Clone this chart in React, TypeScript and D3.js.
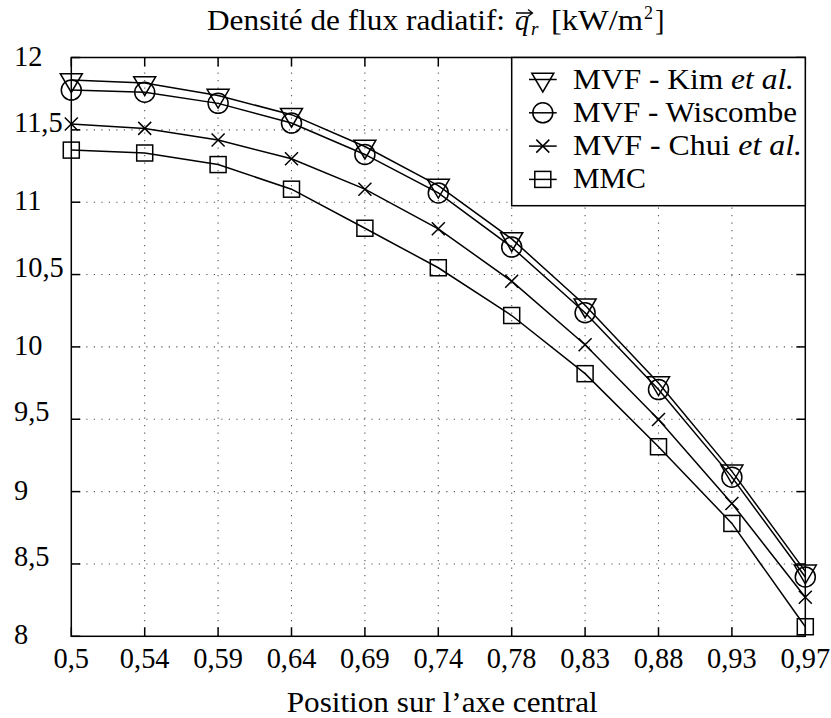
import React from "react";
import * as d3 from "d3";

// ---- Data ----
const categories = ["0,5", "0,54", "0,59", "0,64", "0,69", "0,74", "0,78", "0,83", "0,88", "0,93", "0,97"];
const kimValues = [11.845, 11.824, 11.737, 11.605, 11.385, 11.115, 10.746, 10.288, 9.75, 9.14, 8.449];
const wiscombeValues = [11.775, 11.76, 11.683, 11.547, 11.33, 11.064, 10.69, 10.236, 9.705, 9.1, 8.41];
const chuiValues = [11.54, 11.51, 11.43, 11.3, 11.09, 10.816, 10.454, 10.015, 9.498, 8.918, 8.27];
const mmcValues = [11.36, 11.34, 11.26, 11.09, 10.82, 10.547, 10.217, 9.815, 9.31, 8.78, 8.066];
const yTickValues = [8, 8.5, 9, 9.5, 10, 10.5, 11, 11.5, 12];
const yTickLabels = ["8", "8,5", "9", "9,5", "10", "10,5", "11", "11,5", "12"];

type MarkerType = "tri" | "circle" | "cross" | "square";
const series: { name: string; italic?: string; values: number[]; marker: MarkerType; width: number }[] = [
  { name: "MVF - Kim ", italic: "et al.", values: kimValues, marker: "tri", width: 221 },
  { name: "MVF - Wiscombe", values: wiscombeValues, marker: "circle", width: 224 },
  { name: "MVF - Chui ", italic: "et al.", values: chuiValues, marker: "cross", width: 229 },
  { name: "MMC", values: mmcValues, marker: "square", width: 73 },
];

const FONT = "Liberation Serif";
const FS = 28.4;
const SW = 1.5;
const tf = { fontFamily: FONT } as React.CSSProperties;

const L = 71.3, R = 805.3, T = 57.5, B = 636.3;

function Marker({ type, cx, cy }: { type: MarkerType; cx: number; cy: number }) {
  const common = { fill: "none", stroke: "#000", strokeWidth: SW };
  if (type === "tri") {
    const r = 12.5;
    const hw = 11;
    return <path d={`M${cx - hw},${cy - r / 2}L${cx + hw},${cy - r / 2}L${cx},${cy + r}Z`} {...common} strokeLinejoin="miter" />;
  }
  if (type === "circle") return <circle cx={cx} cy={cy} r={10} {...common} />;
  if (type === "cross") {
    const s = 6.5;
    return <path d={`M${cx - s},${cy - s}L${cx + s},${cy + s}M${cx - s},${cy + s}L${cx + s},${cy - s}`} {...common} />;
  }
  const h = 8;
  return <rect x={cx - h} y={cy - h} width={2 * h} height={2 * h} {...common} />;
}

export default function App() {
  const x = d3.scalePoint<string>().domain(categories).range([L, R]).padding(0);
  const y = d3.scaleLinear().domain([8, 12]).range([B, T]);
  const line = d3
    .line<number>()
    .x((_, i) => x(categories[i]) as number)
    .y((d) => y(d));

  const tick = 9;
  const gridStyle = { stroke: "#555", strokeWidth: 1.1, strokeDasharray: "1.2 6.3" };

  const legX = 511.7, legY = T, legW = R - 511.7, legH = 205.7 - T;
  const rowCenters = [79.5, 112.8, 146.1, 179.4];

  return (
    <svg width={831} height={718} style={{ position: "absolute", left: 0, top: 0, background: "#fff", fontFamily: FONT }}>
      <rect x={0} y={0} width={831} height={718} fill="#fff" />
      {/* Title */}
      <g fill="#000">
        <text x={207} y={30} style={{ ...tf, fontSize: FS }} textLength={298} lengthAdjust="spacingAndGlyphs">Densité de flux radiatif:</text>
        <text x={515} y={30} style={{ ...tf, fontSize: FS, fontStyle: "italic" }}>q</text>
        <path d="M516,13 L532,13 M528,9.5 L532.5,13 L528,16.5" fill="none" stroke="#000" strokeWidth={1.3} />
        <text x={531} y={35} style={{ ...tf, fontSize: 19, fontStyle: "italic" }}>r</text>
        <text x={551} y={30} style={{ ...tf, fontSize: FS }} textLength={92} lengthAdjust="spacingAndGlyphs">[kW/m</text>
        <text x={644} y={19} style={{ ...tf, fontSize: 18 }}>2</text>
        <text x={655} y={30} style={{ ...tf, fontSize: FS }}>]</text>
      </g>

      {/* Grid */}
      <g>
        {categories.slice(1, -1).map((c) => (
          <line key={c} x1={x(c)} x2={x(c)} y1={B} y2={T} {...gridStyle} />
        ))}
        {yTickValues.slice(1, -1).map((v) => (
          <line key={v} x1={L} x2={R} y1={y(v)} y2={y(v)} {...gridStyle} />
        ))}
      </g>

      {/* Ticks */}
      <g stroke="#000" strokeWidth={SW}>
        {categories.map((c) => (
          <g key={c}>
            <line x1={x(c)} x2={x(c)} y1={B} y2={B - tick} />
            <line x1={x(c)} x2={x(c)} y1={T} y2={T + tick} />
          </g>
        ))}
        {yTickValues.map((v) => (
          <g key={v}>
            <line x1={L} x2={L + tick} y1={y(v)} y2={y(v)} />
            <line x1={R} x2={R - tick} y1={y(v)} y2={y(v)} />
          </g>
        ))}
      </g>

      {/* Series */}
      {series.map((s) => (
        <g key={s.name}>
          <path d={line(s.values) || ""} fill="none" stroke="#000" strokeWidth={SW} />
          {s.values.map((v, i) => (
            <Marker key={i} type={s.marker} cx={x(categories[i]) as number} cy={y(v)} />
          ))}
        </g>
      ))}

      {/* Frame */}
      <rect x={L} y={T} width={R - L} height={B - T} fill="none" stroke="#000" strokeWidth={SW} />

      {/* Tick labels */}
      <g fill="#000">
        {categories.map((c) => (
          <text key={c} x={x(c)} y={668} textAnchor="middle" style={{ ...tf, fontSize: FS }}>{c}</text>
        ))}
        {yTickValues.map((v, i) => (
          <text key={v} x={14} y={y(v) + (yTickLabels[i].includes(",") ? 2 : 8)} style={{ ...tf, fontSize: FS }}>{yTickLabels[i]}</text>
        ))}
      </g>

      {/* X label */}
      <text x={286.7} y={712} style={{ ...tf, fontSize: FS }} textLength={311} lengthAdjust="spacingAndGlyphs">Position sur l’axe central</text>

      {/* Legend */}
      <g>
        <rect x={legX} y={legY} width={legW} height={legH} fill="#fff" stroke="#000" strokeWidth={SW} />
        {series.map((s, i) => (
          <g key={s.name}>
            <line x1={529} x2={556.7} y1={rowCenters[i]} y2={rowCenters[i]} stroke="#000" strokeWidth={SW} />
            <Marker type={s.marker} cx={542.8} cy={rowCenters[i]} />
            <text x={573} y={rowCenters[i] + 9} style={{ ...tf, fontSize: FS }} textLength={s.width} lengthAdjust="spacingAndGlyphs">
              {s.name}
              {s.italic ? <tspan style={{ fontStyle: "italic" }}>{s.italic}</tspan> : null}
            </text>
          </g>
        ))}
      </g>
    </svg>
  );
}
